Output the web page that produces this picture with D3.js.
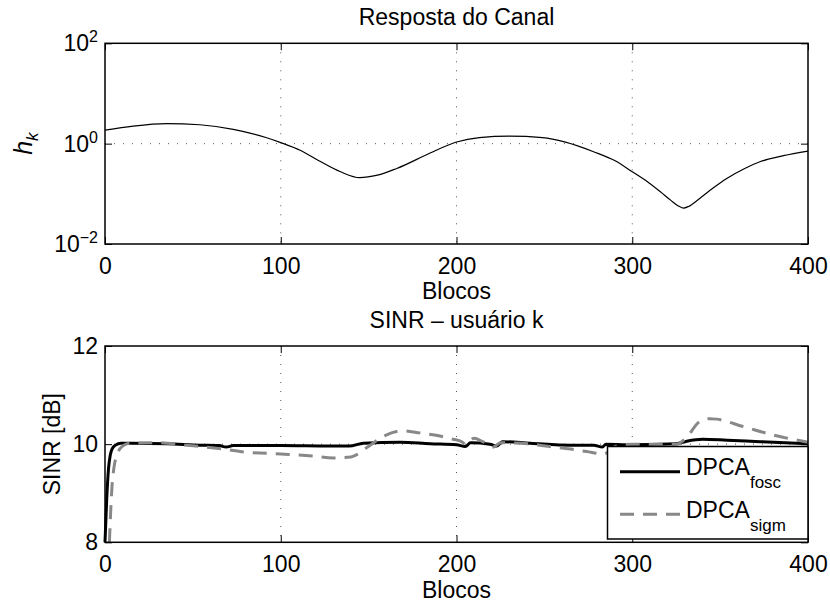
<!DOCTYPE html>
<html>
<head>
<meta charset="utf-8">
<script src="https://cdn.jsdelivr.net/npm/d3@7"></script>
<style>
  body { margin: 0; background: #fff; }
  svg { display: block; font-family: "Liberation Sans", Arial, sans-serif; }
  .grid line { stroke: #555; stroke-width: 1; stroke-dasharray: 1, 8; }
  .axis path { display: none; }
  .axis line { stroke: #000; stroke-width: 1; }
  .axis text { fill: #000; font-size: 23px; font-family: "Liberation Sans", Arial, sans-serif; }
</style>
</head>
<body>
<div id="chart"></div>
<script>
// Resposta do canal (h_k)
const blocosH = [0, 16, 35, 54, 73, 92, 100, 111, 122, 134, 145, 155, 166, 185, 200, 213, 230, 249, 262, 278,
  290, 300, 309, 316, 322, 326, 329, 332, 338, 346, 354, 364, 373, 386, 400];
const canalH = [1.86, 2.24, 2.51, 2.38, 1.93, 1.31, 1.05, 0.74, 0.45, 0.275, 0.21, 0.235, 0.32, 0.65, 1.08, 1.32, 1.41, 1.32, 1.07, 0.69,
  0.46, 0.275, 0.17, 0.11, 0.074, 0.058, 0.052, 0.056, 0.079, 0.13, 0.204, 0.32, 0.44, 0.575, 0.71];

// SINR - DPCA fosc
const blocosFosc = [0, 1, 2, 3, 4, 6, 9, 16, 35, 54, 65, 69, 73, 100, 128, 139, 147, 168, 185, 200,
  205, 208, 219, 223, 226, 242, 265, 278, 283, 285, 297, 325, 331, 340, 354, 373, 400];
const sinrFosc = [8.0, 8.9, 9.5, 9.78, 9.9, 9.98, 10.02, 10.02, 10.01, 9.98, 9.97, 9.94, 9.97, 9.97, 9.96, 9.96, 10.02, 10.04, 10.01, 9.99,
  9.95, 10.03, 10.0, 9.96, 10.05, 10.02, 9.98, 9.98, 9.94, 10.0, 9.99, 10.01, 10.06, 10.1, 10.08, 10.05, 10.01];

// SINR - DPCA sigm
const blocosSigm = [2.5, 3.2, 4, 5, 7, 10, 14, 29, 46, 67, 79, 100, 118, 130, 140, 149, 158, 169, 179, 190,
  198, 203, 205, 210, 215, 221, 225, 237, 253, 265, 274, 284, 290, 300, 325, 331, 338, 344, 348, 363, 382, 400];
const sinrSigm = [8.0, 8.6, 9.15, 9.5, 9.8, 9.96, 10.02, 10.03, 9.98, 9.9, 9.84, 9.8, 9.76, 9.72, 9.74, 9.93, 10.15, 10.27, 10.23, 10.17,
  10.1, 10.05, 10.0, 10.12, 10.05, 9.94, 10.03, 10.02, 9.95, 9.9, 9.85, 9.8, 9.95, 10.0, 10.0, 10.14, 10.45, 10.52, 10.51, 10.36, 10.17, 10.04];

const xTicks = [0, 100, 200, 300, 400];
const hTicks = [0.01, 1, 100];
const hExps = ["\u22122", "0", "2"];
const sinrTicks = [8, 10, 12];
const legendLabels = [["DPCA", "fosc"], ["DPCA", "sigm"]];

const W = 830, H = 603;
const left = 105, right = 808;
const top1 = 43.3, bottom1 = 244;
const top2 = 346, bottom2 = 542.3;
const tickLen = 7;

const svg = d3.select("#chart").append("svg")
  .attr("width", W)
  .attr("height", H);

svg.append("rect").attr("width", W).attr("height", H).attr("fill", "#fff");

function drawFrame(x, y, yTop, yBottom, yTickVals, gridY, padX) {
  const g = svg.append("g");

  const grid = g.append("g").attr("class", "grid");
  grid.selectAll("line.v")
    .data(xTicks.slice(1, -1))
    .enter().append("line")
    .attr("x1", d => x(d)).attr("x2", d => x(d))
    .attr("y1", yTop).attr("y2", yBottom);
  grid.selectAll("line.h")
    .data(gridY)
    .enter().append("line")
    .attr("x1", left).attr("x2", right)
    .attr("y1", d => y(d)).attr("y2", d => y(d));

  g.append("g").attr("class", "axis")
    .attr("transform", "translate(0," + yBottom + ")")
    .call(d3.axisBottom(x).tickValues(xTicks).tickSize(-tickLen).tickPadding(padX).tickFormat(d3.format("d")));
  g.append("g").attr("class", "axis")
    .attr("transform", "translate(0," + yTop + ")")
    .call(d3.axisTop(x).tickValues(xTicks).tickSize(-tickLen).tickFormat(""));
  const yAxis = g.append("g").attr("class", "axis")
    .attr("transform", "translate(" + left + ",0)")
    .call(d3.axisLeft(y).tickValues(yTickVals).tickSize(-tickLen).tickPadding(7).tickFormat(d3.format("d")));
  g.append("g").attr("class", "axis")
    .attr("transform", "translate(" + right + ",0)")
    .call(d3.axisRight(y).tickValues(yTickVals).tickSize(-tickLen).tickFormat(""));

  return yAxis;
}

function drawBox(yTop, yBottom) {
  svg.append("rect")
    .attr("x", left).attr("y", yTop)
    .attr("width", right - left).attr("height", yBottom - yTop)
    .attr("fill", "none")
    .attr("stroke", "#000")
    .attr("stroke-width", 1.5);
}

// ---- grafico de cima: resposta do canal
const x1 = d3.scaleLinear().domain([0, 400]).range([left, right]);
const y1 = d3.scaleLog().domain([0.01, 100]).range([bottom1, top1]);

const yAxis1 = drawFrame(x1, y1, top1, bottom1, hTicks, [1], 14);
yAxis1.selectAll(".tick text")
  .text("10")
  .append("tspan")
  .attr("dy", "-0.55em")
  .attr("font-size", "16px")
  .text((d, i) => hExps[i]);

const lineH = d3.line()
  .x(d => x1(d[0]))
  .y(d => y1(d[1]))
  .curve(d3.curveMonotoneX);

svg.append("path")
  .attr("d", lineH(d3.zip(blocosH, canalH)))
  .attr("fill", "none")
  .attr("stroke", "#000")
  .attr("stroke-width", 1.2);

drawBox(top1, bottom1);

svg.append("text")
  .attr("x", (left + right) / 2).attr("y", 25)
  .attr("text-anchor", "middle")
  .attr("font-size", 23)
  .text("Resposta do Canal");

svg.append("text")
  .attr("x", (left + right) / 2).attr("y", 299)
  .attr("text-anchor", "middle")
  .attr("font-size", 23)
  .text("Blocos");

const hLabel = svg.append("text")
  .attr("transform", "translate(32," + ((top1 + bottom1) / 2) + ") rotate(-90)")
  .attr("text-anchor", "middle")
  .attr("font-size", 25)
  .attr("font-style", "italic");
hLabel.append("tspan").text("h");
hLabel.append("tspan").attr("dy", "0.35em").attr("font-size", 17).text("k");

// ---- grafico de baixo: SINR
const x2 = d3.scaleLinear().domain([0, 400]).range([left, right]);
const y2 = d3.scaleLinear().domain([8, 12]).range([bottom2, top2]);

drawFrame(x2, y2, top2, bottom2, sinrTicks, [10], 13);

const lineS = d3.line()
  .x(d => x2(d[0]))
  .y(d => y2(d[1]))
  .curve(d3.curveMonotoneX);

svg.append("path")
  .attr("d", lineS(d3.zip(blocosFosc, sinrFosc)))
  .attr("fill", "none")
  .attr("stroke", "#000")
  .attr("stroke-width", 3);

svg.append("path")
  .attr("d", lineS(d3.zip(blocosSigm, sinrSigm)))
  .attr("fill", "none")
  .attr("stroke", "#888")
  .attr("stroke-width", 3)
  .attr("stroke-dasharray", "14,9");

drawBox(top2, bottom2);

svg.append("text")
  .attr("x", (left + right) / 2).attr("y", 328)
  .attr("text-anchor", "middle")
  .attr("font-size", 23)
  .text("SINR \u2013 usu\u00e1rio k");

svg.append("text")
  .attr("x", (left + right) / 2).attr("y", 598)
  .attr("text-anchor", "middle")
  .attr("font-size", 23)
  .text("Blocos");

svg.append("text")
  .attr("transform", "translate(60," + ((top2 + bottom2) / 2) + ") rotate(-90)")
  .attr("text-anchor", "middle")
  .attr("font-size", 23)
  .text("SINR [dB]");

// legenda
const legend = svg.append("g");
legend.append("rect")
  .attr("x", 607.5).attr("y", 446.5)
  .attr("width", 200.5).attr("height", 92.5)
  .attr("fill", "#fff")
  .attr("stroke", "#000")
  .attr("stroke-width", 1.5);

const legendStyles = [
  {stroke: "#000", dash: null},
  {stroke: "#888", dash: "14,9"}
];
const legendRow = d3.scaleLinear().domain([0, 1]).range([471.7, 514.3]);

legendLabels.forEach(function (lab, i) {
  const yy = legendRow(i);
  legend.append("line")
    .attr("x1", 620).attr("x2", 680)
    .attr("y1", yy).attr("y2", yy)
    .attr("stroke", legendStyles[i].stroke)
    .attr("stroke-width", 3)
    .attr("stroke-dasharray", legendStyles[i].dash);
  const t = legend.append("text")
    .attr("x", 686).attr("y", yy + 3.5)
    .attr("font-size", 23);
  t.append("tspan").text(lab[0]);
  t.append("tspan").attr("dy", 13).attr("font-size", 17).text(lab[1]);
});
</script>
</body>
</html>
